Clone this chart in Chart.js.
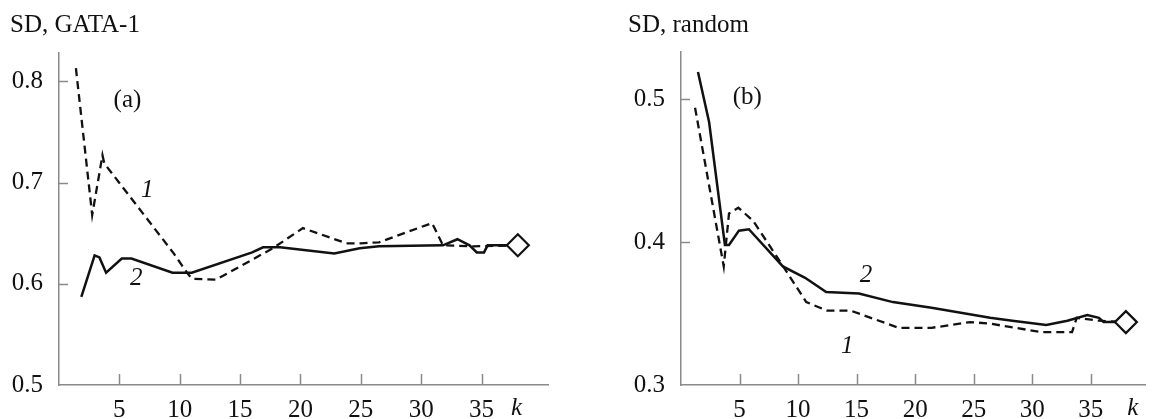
<!DOCTYPE html>
<html>
<head>
<meta charset="utf-8">
<script src="https://cdn.jsdelivr.net/npm/chart.js@4.4.0/dist/chart.umd.min.js"></script>
<style>
  body { margin: 0; background: #fff; }
  #boxA { position: absolute; left: 0; top: 0; }
  #boxB { position: absolute; left: 580px; top: 0; }
</style>
</head>
<body>
<div id="boxA"><canvas id="chartA" width="580" height="419"></canvas></div>
<div id="boxB"><canvas id="chartB" width="579" height="419"></canvas></div>
<script>
// panel (a): SD, GATA-1
var kA1 = [1.4, 2.75, 3.6, 3.75, 7.5, 9.5, 10.6, 11, 13, 17.7, 20.2, 23.8, 25, 26.5, 30.9, 31.8, 34.3, 38];
var sdA1 = [0.813, 0.668, 0.727, 0.719, 0.661, 0.630, 0.611, 0.605, 0.604, 0.635, 0.655, 0.640, 0.640, 0.641, 0.660, 0.638, 0.637, 0.638];
var kA2 = [1.85, 2.95, 3.35, 3.9, 5.2, 6.0, 9.4, 11.0, 16.0, 16.9, 18.3, 22.8, 24.9, 26.5, 31.8, 33.0, 34.0, 34.6, 35.2, 35.5, 38];
var sdA2 = [0.587, 0.628, 0.626, 0.611, 0.625, 0.625, 0.611, 0.611, 0.631, 0.636, 0.636, 0.630, 0.635, 0.637, 0.638, 0.644, 0.638, 0.631, 0.631, 0.638, 0.638];
var endA = [38, 0.638];

// panel (b): SD, random
var kB1 = [1.2, 3.65, 4.1, 4.9, 6.15, 8.65, 10.7, 12.5, 14.5, 18.6, 21.4, 24.7, 26.4, 27.8, 30.8, 33.4, 33.8, 35.7, 38];
var sdB1 = [0.494, 0.383, 0.420, 0.424, 0.415, 0.384, 0.358, 0.352, 0.352, 0.340, 0.340, 0.344, 0.343, 0.341, 0.337, 0.337, 0.347, 0.345, 0.344];
var kB2 = [1.45, 2.4, 3.75, 4.1, 4.95, 5.8, 8.7, 10.6, 12.4, 15.2, 18.1, 21.4, 26.4, 28.3, 31.2, 33.0, 34.7, 35.7, 36.1, 38];
var sdB2 = [0.519, 0.484, 0.398, 0.398, 0.408, 0.409, 0.383, 0.375, 0.365, 0.364, 0.358, 0.354, 0.347, 0.345, 0.342, 0.345, 0.349, 0.347, 0.344, 0.344];
var endB = [38, 0.344];

var xTicks = [5, 10, 15, 20, 25, 30, 35];
var yTicksA = [0.5, 0.6, 0.7, 0.8];
var yTicksB = [0.3, 0.4, 0.5];

var serif = "'Liberation Serif', 'DejaVu Serif', serif";
var ink = '#111';
var axisGrey = '#8a8a8a';

function pts(xs, ys) {
  return xs.map(function (x, i) { return { x: x, y: ys[i] }; });
}

// inward tick marks + free text (panel letter, curve numbers, k, axis title)
const decorPlugin = {
  id: 'decor',
  beforeDatasetsDraw(chart, args, opts) {
    const ctx = chart.ctx, xs = chart.scales.x, ys = chart.scales.y;
    ctx.save();
    ctx.strokeStyle = axisGrey;
    ctx.lineWidth = 1.5;
    ctx.beginPath();
    xTicks.forEach(function (v) {
      const px = Math.round(xs.getPixelForValue(v)) + 0.5;
      ctx.moveTo(px, ys.bottom);
      ctx.lineTo(px, ys.bottom - 11);
    });
    opts.yTicks.forEach(function (v) {
      if (v <= ys.min) return;
      const py = Math.round(ys.getPixelForValue(v)) + 0.5;
      ctx.moveTo(xs.left, py);
      ctx.lineTo(xs.left + 9, py);
    });
    ctx.stroke();
    ctx.restore();
  },
  afterDraw(chart, args, opts) {
    const ctx = chart.ctx, xs = chart.scales.x, ys = chart.scales.y;
    ctx.save();
    ctx.fillStyle = ink;
    ctx.textBaseline = 'middle';
    ctx.textAlign = 'left';
    ctx.font = '25px ' + serif;
    ctx.fillText(opts.title, opts.titleX, 25);
    ctx.textAlign = 'center';
    opts.notes.forEach(function (n) {
      ctx.font = (n.italic ? 'italic ' : '') + '25px ' + serif;
      const py = n.axis ? 408 : ys.getPixelForValue(n.y);
      ctx.fillText(n.text, xs.getPixelForValue(n.x), py);
    });
    ctx.restore();
  }
};

function makeChart(id, cfg) {
  return new Chart(document.getElementById(id).getContext('2d'), {
    type: 'line',
    data: {
      datasets: [
        {
          data: [{ x: cfg.end[0], y: cfg.end[1] }],
          showLine: false,
          pointStyle: 'rectRot',
          pointRadius: 11,
          pointBackgroundColor: '#fff',
          pointBorderColor: ink,
          pointBorderWidth: 2.2,
          order: 0
        },
        {
          label: '1',
          data: pts(cfg.k1, cfg.sd1),
          borderColor: ink,
          borderWidth: 2.3,
          borderDash: [8, 5],
          pointRadius: 0,
          tension: 0,
          order: 2
        },
        {
          label: '2',
          data: pts(cfg.k2, cfg.sd2),
          borderColor: ink,
          borderWidth: 2.5,
          pointRadius: 0,
          tension: 0,
          order: 1
        }
      ]
    },
    options: {
      responsive: false,
      animation: false,
      clip: false,
      layout: { padding: cfg.padding },
      plugins: {
        legend: { display: false },
        tooltip: { enabled: false },
        decor: { title: cfg.title, titleX: cfg.titleX, yTicks: cfg.yTicks, notes: cfg.notes }
      },
      scales: {
        x: {
          type: 'linear',
          min: 0,
          max: cfg.xMax,
          grid: { display: false, drawTicks: false },
          border: { display: true, color: axisGrey, width: 1.5 },
          afterFit: function (s) { s.height = 34; },
          afterBuildTicks: function (s) { s.ticks = xTicks.map(function (v) { return { value: v }; }); },
          ticks: {
            autoSkip: false,
            maxRotation: 0,
            padding: 10,
            color: ink,
            font: { family: serif, size: 25 }
          }
        },
        y: {
          type: 'linear',
          min: cfg.yMin,
          max: cfg.yMax,
          grid: { display: false, drawTicks: false },
          border: { display: true, color: axisGrey, width: 1.5 },
          afterFit: function (s) { s.width = cfg.yWidth; },
          afterBuildTicks: function (s) { s.ticks = cfg.yTicks.map(function (v) { return { value: v }; }); },
          ticks: {
            padding: 16,
            color: ink,
            font: { family: serif, size: 25 },
            callback: function (v) { return v.toFixed(1); }
          }
        }
      }
    },
    plugins: [decorPlugin]
  });
}

makeChart('chartA', {
  k1: kA1, sd1: sdA1, k2: kA2, sd2: sdA2, end: endA,
  xMax: 40.5, yMin: 0.5, yMax: 0.828, yTicks: yTicksA, yWidth: 59,
  padding: { top: 53, right: 32, left: 0, bottom: 0 },
  title: 'SD, GATA-1', titleX: 10,
  notes: [
    { text: '(a)', x: 5.67, y: 0.781 },
    { text: '1', x: 7.3, y: 0.692, italic: true },
    { text: '2', x: 6.4, y: 0.605, italic: true },
    { text: 'k', x: 37.9, axis: true, italic: true }
  ]
});

makeChart('chartB', {
  k1: kB1, sd1: sdB1, k2: kB2, sd2: sdB2, end: endB,
  xMax: 39.7, yMin: 0.3, yMax: 0.533, yTicks: yTicksB, yWidth: 101,
  padding: { top: 52, right: 0, left: 0, bottom: 0 },
  title: 'SD, random', titleX: 48,
  notes: [
    { text: '(b)', x: 5.66, y: 0.501 },
    { text: '2', x: 15.8, y: 0.377, italic: true },
    { text: '1', x: 14.2, y: 0.327, italic: true },
    { text: 'k', x: 38.6, axis: true, italic: true }
  ]
});
</script>
</body>
</html>
